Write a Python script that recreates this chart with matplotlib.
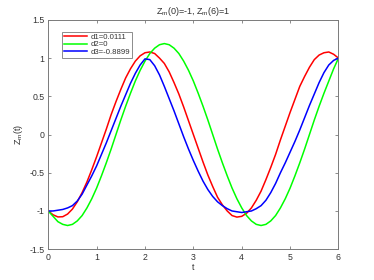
import matplotlib
matplotlib.use("Agg")
import matplotlib.pyplot as plt

plt.rcParams['font.family'] = ['Liberation Sans', 'DejaVu Sans']
plt.rcParams['mathtext.fontset'] = 'custom'
plt.rcParams['mathtext.rm'] = 'Liberation Sans'

t = [0.0, 0.1, 0.2, 0.3, 0.4, 0.5, 0.6, 0.7, 0.8, 0.9,
     1.0, 1.1, 1.2, 1.3, 1.4, 1.5, 1.6, 1.7, 1.8, 1.9,
     2.0, 2.1, 2.2, 2.3, 2.4, 2.5, 2.6, 2.7, 2.8, 2.9,
     3.0, 3.1, 3.2, 3.3, 3.4, 3.5, 3.6, 3.7, 3.8, 3.9,
     4.0, 4.1, 4.2, 4.3, 4.4, 4.5, 4.6, 4.7, 4.8, 4.9,
     5.0, 5.1, 5.2, 5.3, 5.4, 5.5, 5.6, 5.7, 5.8, 5.9, 6.0]

z_d1 = [-1.00, -1.05, -1.078, -1.075, -1.04, -0.975, -0.88, -0.76, -0.62, -0.46,
        -0.29, -0.11, 0.07, 0.26, 0.43, 0.59, 0.74, 0.86, 0.96, 1.03,
        1.07, 1.08, 1.06, 1.00, 0.93, 0.82, 0.68, 0.53, 0.36, 0.18,
        0.00, -0.18, -0.36, -0.53, -0.68, -0.82, -0.92, -1.00, -1.06, -1.08,
        -1.07, -1.03, -0.96, -0.86, -0.74, -0.59, -0.43, -0.26, -0.07, 0.11,
        0.29, 0.46, 0.63, 0.76, 0.88, 0.98, 1.04, 1.07, 1.08, 1.05, 1.00]

z_d2 = [-1.00, -1.07, -1.14, -1.175, -1.19, -1.175, -1.13, -1.06, -0.96, -0.84,
        -0.70, -0.54, -0.37, -0.19, 0.00, 0.19, 0.37, 0.54, 0.70, 0.84,
        0.96, 1.06, 1.13, 1.175, 1.19, 1.175, 1.13, 1.06, 0.96, 0.84,
        0.70, 0.54, 0.37, 0.19, 0.00, -0.19, -0.37, -0.54, -0.70, -0.84,
        -0.96, -1.06, -1.13, -1.175, -1.19, -1.175, -1.13, -1.06, -0.96, -0.84,
        -0.70, -0.54, -0.37, -0.19, 0.00, 0.19, 0.37, 0.54, 0.70, 0.86, 1.00]

z_d3 = [-1.00, -1.00, -0.99, -0.98, -0.96, -0.93, -0.87, -0.78, -0.66, -0.54,
        -0.41, -0.26, -0.11, 0.05, 0.21, 0.37, 0.52, 0.67, 0.80, 0.91,
        0.99, 0.98, 0.90, 0.78, 0.63, 0.47, 0.31, 0.14, -0.03, -0.19,
        -0.34, -0.48, -0.61, -0.72, -0.81, -0.88, -0.93, -0.97, -1.00, -1.01,
        -1.02, -1.01, -1.00, -0.97, -0.93, -0.86, -0.76, -0.64, -0.50, -0.37,
        -0.23, -0.09, 0.06, 0.22, 0.38, 0.53, 0.68, 0.81, 0.91, 0.97, 1.00]

labels = ['d1=0.0111', 'd2=0', 'd3=-0.8899']
colors = ['#ff0000', '#00ff00', '#0000ff']

xticks = [0, 1, 2, 3, 4, 5, 6]
xticklabels = ['0', '1', '2', '3', '4', '5', '6']
yticks = [-1.5, -1, -0.5, 0, 0.5, 1, 1.5]
yticklabels = ['-1.5', '-1', '-0.5', '0', '0.5', '1', '1.5']

fig = plt.figure(figsize=(3.74, 2.80), dpi=100)
ax = fig.add_axes([0.129, 0.110, 0.776, 0.819])

for y, c, lab in zip([z_d1, z_d2, z_d3], colors, labels):
    ax.plot(t, y, color=c, lw=1.1, label=lab, solid_joinstyle='round')

ax.set_xlim(0, 6)
ax.set_ylim(-1.5, 1.5)
ax.set_xticks(xticks)
ax.set_xticklabels(xticklabels)
ax.set_yticks(yticks)
ax.set_yticklabels(yticklabels)

axcol = '#7a7a7a'
txtcol = '#333333'
for s in ax.spines.values():
    s.set_color(axcol)
    s.set_linewidth(0.7)
ax.tick_params(direction='in', length=2.5, width=0.6, color=axcol,
               labelsize=6.3, labelcolor=txtcol, top=True, right=True, pad=2.5)

ax.set_title(r'Z$_{\rm m}$(0)=-1, Z$_{\rm m}$(6)=1', fontsize=6.5, color=txtcol, pad=4)
ax.set_xlabel('t', fontsize=6.5, color=txtcol, labelpad=1)
ax.set_ylabel(r'Z$_{\rm m}$(t)', fontsize=6.5, color=txtcol, labelpad=3)

leg = ax.legend(loc='upper left', bbox_to_anchor=(0.046, 0.949), borderaxespad=0,
                fontsize=5.6, handlelength=3.0, handletextpad=0.5, labelspacing=0.0,
                borderpad=0.25, fancybox=False, framealpha=1)
leg.get_frame().set_edgecolor(axcol)
leg.get_frame().set_linewidth(0.6)
for txt in leg.get_texts():
    txt.set_color(txtcol)

fig.savefig('out.png', dpi=100)
